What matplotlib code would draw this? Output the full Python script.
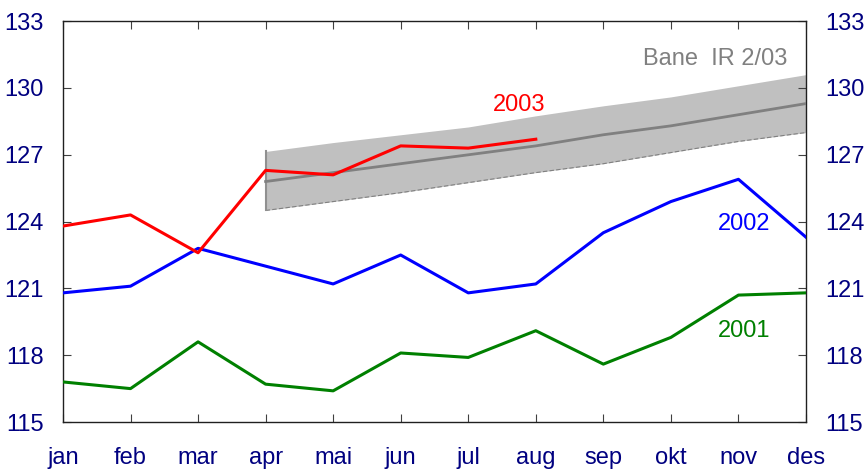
import numpy as np
import matplotlib
matplotlib.use('Agg')
import matplotlib.pyplot as plt

plt.rcParams['font.family'] = ['Liberation Sans', 'DejaVu Sans']

months = ['jan', 'feb', 'mar', 'apr', 'mai', 'jun', 'jul', 'aug', 'sep', 'okt', 'nov', 'des']

y2001 = [116.8, 116.5, 118.6, 116.7, 116.4, 118.1, 117.9, 119.1, 117.6, 118.8, 120.7, 120.8]
y2002 = [120.8, 121.1, 122.8, 122.0, 121.2, 122.5, 120.8, 121.2, 123.5, 124.9, 125.9, 123.3]
y2003 = [123.8, 124.3, 122.6, 126.3, 126.1, 127.4, 127.3, 127.7]

# Bane IR 2/03, apr - des
bane_mid = [125.8, 126.2, 126.6, 127.0, 127.4, 127.9, 128.3, 128.8, 129.3]
bane_hi = [127.15, 127.55, 127.9, 128.25, 128.75, 129.2, 129.6, 130.1, 130.6]
bane_lo = [124.5, 124.9, 125.3, 125.75, 126.2, 126.6, 127.1, 127.6, 128.0]

yticks = [115, 118, 121, 124, 127, 130, 133]

navy = '#000080'

fig = plt.figure(figsize=(8.66, 4.71), dpi=100)
ax = fig.add_axes([0.0727, 0.104, 0.858, 0.851])

x = np.arange(len(months))
xb = x[3:]

ax.fill_between(xb, bane_lo, bane_hi, color='#c0c0c0', lw=0, zorder=1)
ax.plot(xb, bane_lo, color='#808080', lw=0.8, ls=(0, (4, 2)), zorder=2)
ax.plot([xb[0], xb[0]], [bane_lo[0], bane_hi[0]], color='#909090', lw=1.5, zorder=2)
ax.plot(xb, bane_mid, color='#808080', lw=2.0, zorder=3)

ax.plot(x, y2001, color='#008000', lw=2.2, zorder=4)
ax.plot(x, y2002, color='#0000ff', lw=2.2, zorder=4)
ax.plot(x[:len(y2003)], y2003, color='#ff0000', lw=2.2, zorder=5)

fs = 17
ax.text(6.76, 129.25, '2003', color='#ff0000', fontsize=fs, ha='center', va='center')
ax.text(10.08, 123.9, '2002', color='#0000ff', fontsize=fs, ha='center', va='center')
ax.text(10.08, 119.1, '2001', color='#008000', fontsize=fs, ha='center', va='center')
ax.text(10.73, 131.3, 'Bane  IR 2/03', color='#808080', fontsize=fs, ha='right', va='center')

ax.set_xlim(0, 11)
ax.set_ylim(115, 133)
ax.set_xticks(x)
ax.set_xticklabels(months)
ax.set_yticks(yticks)

ax.tick_params(axis='both', direction='in', length=6, width=0.8, colors='#404040',
               labelcolor=navy, labelsize=fs)
ax.tick_params(axis='x', top=True, pad=18)
ax.tick_params(axis='y', right=True, labelright=True, pad=14)

for s in ax.spines.values():
    s.set_color('#202020')
    s.set_linewidth(1.0)

fig.savefig('out.png', dpi=100)
